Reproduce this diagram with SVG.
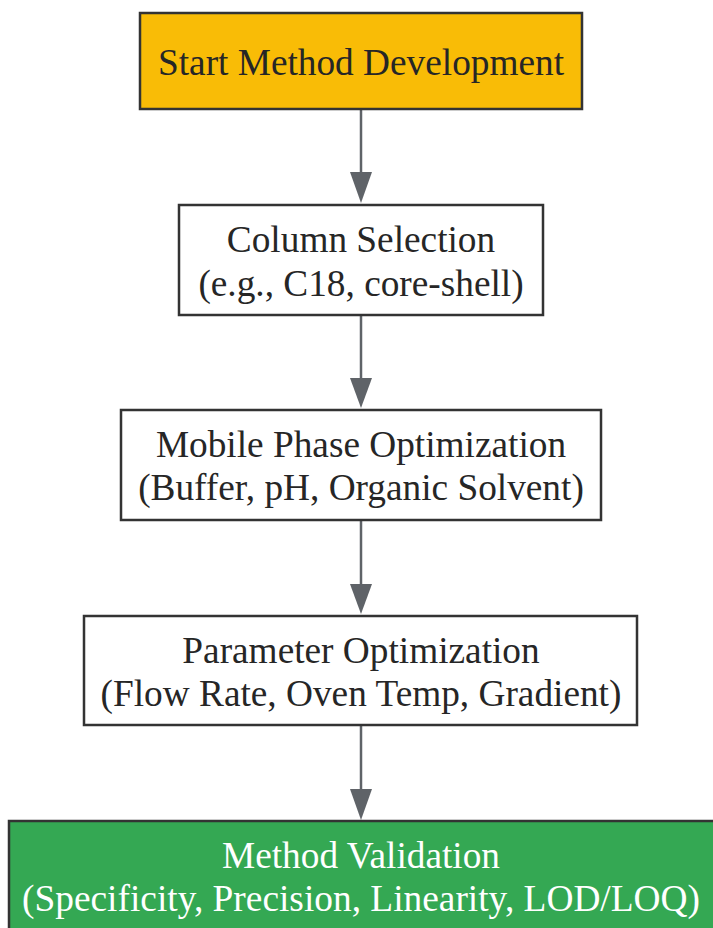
<svg xmlns="http://www.w3.org/2000/svg" width="713" height="928" viewBox="0 0 713 928">
<style>
.box{stroke:#333333;stroke-width:2.5}
.t{font-family:"Liberation Serif","Times New Roman",serif;font-size:37.3px;text-anchor:middle;fill:#262626}
.w{fill:#ffffff}
.edge{stroke:#5f6368;stroke-width:2.5;fill:none}
.head{fill:#5f6368}
</style>
<rect width="713" height="928" fill="#ffffff"/>
<g id="connectors">
<line class="edge" x1="361" y1="109" x2="361" y2="172"/>
<path class="head" d="M350,172 L372,172 L361,203 Z"/>
<line class="edge" x1="361" y1="315" x2="361" y2="378"/>
<path class="head" d="M350,378 L372,378 L361,408 Z"/>
<line class="edge" x1="361" y1="520" x2="361" y2="584"/>
<path class="head" d="M350,584 L372,584 L361,614 Z"/>
<line class="edge" x1="361" y1="725" x2="361" y2="789"/>
<path class="head" d="M350,789 L372,789 L361,820 Z"/>
</g>
<g id="start">
<rect class="box" x="140" y="13" width="442" height="96" fill="#f9bc06"/>
<text class="t" x="361" y="75">Start Method Development</text>
</g>
<g id="column">
<rect class="box" x="179" y="205" width="364" height="110" fill="#ffffff"/>
<text class="t" x="361" y="252">Column Selection</text>
<text class="t" x="361" y="296">(e.g., C18, core-shell)</text>
</g>
<g id="mobile">
<rect class="box" x="121" y="410" width="480" height="110" fill="#ffffff"/>
<text class="t" x="361" y="457">Mobile Phase Optimization</text>
<text class="t" x="361" y="500">(Buffer, pH, Organic Solvent)</text>
</g>
<g id="param">
<rect class="box" x="84" y="616" width="553" height="109" fill="#ffffff"/>
<text class="t" x="361" y="663">Parameter Optimization</text>
<text class="t" x="361" y="706">(Flow Rate, Oven Temp, Gradient)</text>
</g>
<g id="validation">
<rect class="box" x="9" y="821" width="720" height="130" fill="#34a853"/>
<text class="t w" x="361" y="868" textLength="278" lengthAdjust="spacingAndGlyphs">Method Validation</text>
<text class="t w" x="361" y="911" textLength="678" lengthAdjust="spacingAndGlyphs">(Specificity, Precision, Linearity, LOD/LOQ)</text>
</g>
</svg>
